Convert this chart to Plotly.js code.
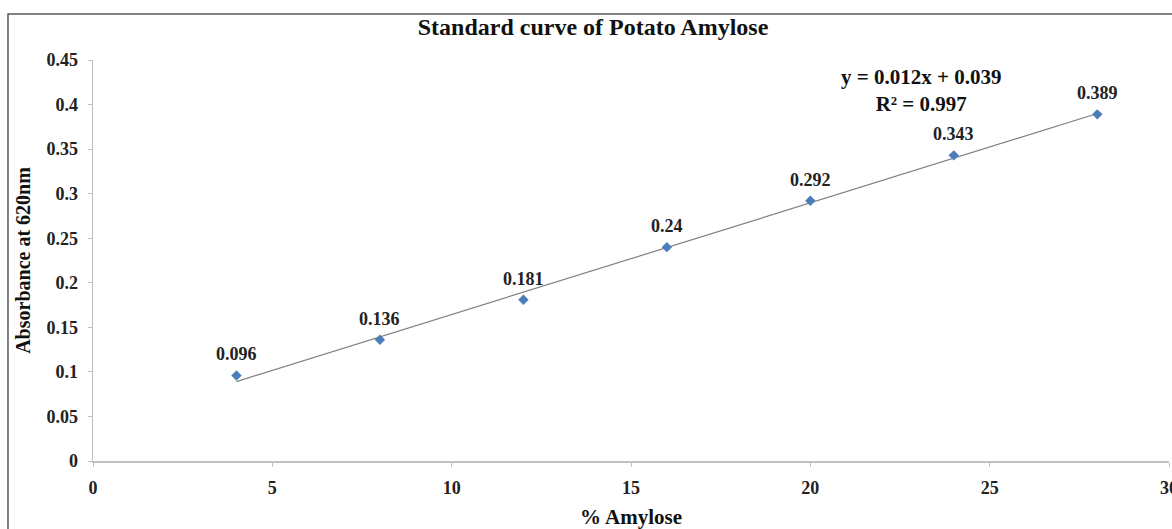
<!DOCTYPE html>
<html>
<head>
<meta charset="utf-8">
<script src="https://cdn.plot.ly/plotly-3.0.1.min.js"></script>
<style>
html,body{margin:0;padding:0;background:#fff;}
#chart{width:1172px;height:529px;}
</style>
</head>
<body>
<div id="chart"></div>
<script>
// Data
const amylosePct = [4, 8, 12, 16, 20, 24, 28];
const absorbance = [0.096, 0.136, 0.181, 0.24, 0.292, 0.343, 0.389];
const pointLabels = ["0.096", "0.136", "0.181", "0.24", "0.292", "0.343", "0.389"];
const xTicks = [0, 5, 10, 15, 20, 25, 30];
const yTicks = [0, 0.05, 0.1, 0.15, 0.2, 0.25, 0.3, 0.35, 0.4, 0.45];
const equationText = "y = 0.012x + 0.039<br>R² = 0.997";
const xTitle = "% Amylose";
const yTitle = "Absorbance at 620nm";

// Linear least-squares trendline from the data
const n = amylosePct.length;
const mx = amylosePct.reduce((a, b) => a + b, 0) / n;
const my = absorbance.reduce((a, b) => a + b, 0) / n;
let sxy = 0, sxx = 0;
for (let i = 0; i < n; i++) {
  sxy += (amylosePct[i] - mx) * (absorbance[i] - my);
  sxx += (amylosePct[i] - mx) ** 2;
}
const slope = sxy / sxx;
const intercept = my - slope * mx;
const xFit = [Math.min(...amylosePct), Math.max(...amylosePct)];
const yFit = xFit.map(x => slope * x + intercept);

const serif = "'Liberation Serif', 'Times New Roman', serif";

const traces = [
  {
    x: xFit, y: yFit, type: "scatter", mode: "lines",
    line: {color: "#7f7f7f", width: 1.2},
    hoverinfo: "skip", showlegend: false
  },
  {
    x: amylosePct, y: absorbance, type: "scatter", mode: "markers",
    marker: {symbol: "diamond", size: 8, color: "#4a7ebb"},
    showlegend: false
  }
];

const annotations = amylosePct.map((x, i) => ({
  x: x, y: absorbance[i], text: pointLabels[i],
  showarrow: false, yshift: 21, xshift: 0,
  font: {family: serif, size: 18, color: "#222", weight: "bold"}
}));
annotations.push({
  x: 23.08, y: 0.4155, text: equationText, showarrow: false,
  font: {family: serif, size: 21, color: "#111", weight: "bold"},
  align: "center"
});
annotations.push({
  xref: "paper", yref: "paper", x: 0.5, y: -0.139,
  xanchor: "center", yanchor: "middle",
  text: xTitle, showarrow: false,
  font: {family: serif, size: 21, color: "#111", weight: "bold"}
});

const layout = {
  width: 1172, height: 529,
  margin: {l: 93, r: 3, t: 60, b: 68},
  paper_bgcolor: "#fff", plot_bgcolor: "#fff",
  title: {
    text: "Standard curve of Potato Amylose",
    font: {family: serif, size: 24, color: "#111", weight: "bold"},
    x: 0.506, xanchor: "center", y: 0.949, yanchor: "middle"
  },
  xaxis: {
    range: [0, 30], tickvals: xTicks, ticktext: xTicks.map(String),
    showgrid: false, zeroline: false, showline: true,
    linecolor: "#c0c0c0", linewidth: 1.5,
    ticks: "outside", ticklen: 4, tickcolor: "#c0c0c0",
    ticklabeloverflow: "allow",
    ticklabelstandoff: 6,
    tickfont: {family: serif, size: 18, color: "#222", weight: "bold"}
  },
  yaxis: {
    range: [0, 0.45], tickvals: yTicks, ticktext: yTicks.map(String),
    showgrid: false, zeroline: false, showline: true,
    linecolor: "#c0c0c0", linewidth: 1.5,
    ticks: "outside", ticklen: 4, tickcolor: "#c0c0c0",
    ticklabelstandoff: 6,
    tickfont: {family: serif, size: 18, color: "#222", weight: "bold"},
    title: {text: yTitle, standoff: 10,
      font: {family: serif, size: 20, color: "#111", weight: "bold"}}
  },
  annotations: annotations,
  shapes: [{
    type: "rect", xref: "paper", yref: "paper",
    x0: -0.079, x1: 1.02, y0: -0.3, y1: 1.1147,
    line: {color: "#595959", width: 1.5}, fillcolor: "rgba(0,0,0,0)", layer: "below"
  }]
};

Plotly.newPlot("chart", traces, layout, {displayModeBar: false, staticPlot: true});
</script>
</body>
</html>
